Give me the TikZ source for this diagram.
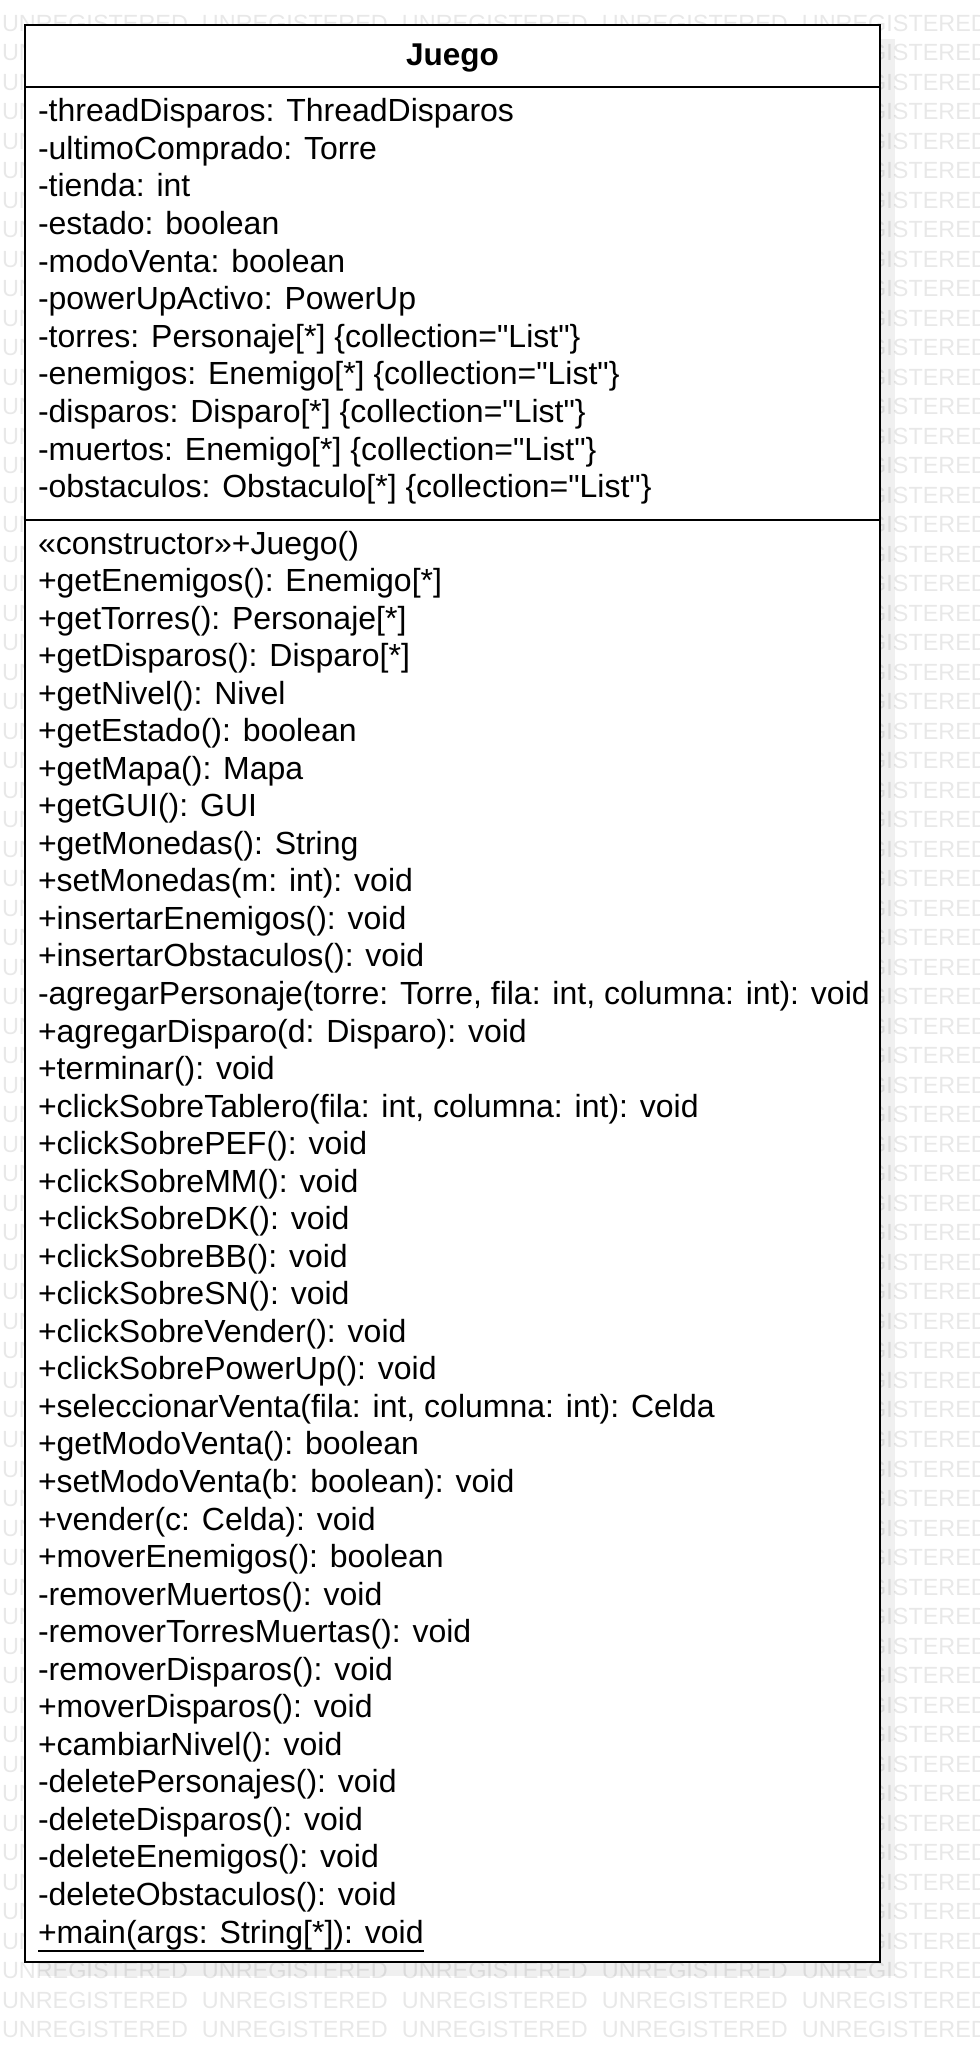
\documentclass[tikz,border=0pt]{standalone}
\usepackage{fontspec}
\setmainfont{Liberation Sans}[Ligatures=TeXOff]
\newcommand{\wmword}{\makebox[200pt][l]{UNREGISTERED}}
\begin{document}
\begin{tikzpicture}[x=1pt,y=-1pt,
  every node/.style={inner sep=0pt, outer sep=0pt},
  wm/.style={anchor=base west, font=\fontsize{23.4}{26}\selectfont, text=black, text opacity=0.09},
  classbox/.style={draw=black, line width=2pt, fill=white, anchor=north west},
  sep/.style={draw=black, line width=2pt},
  txt/.style={anchor=base west, font=\fontsize{32}{37.5}\selectfont, text=black},
  title/.style={anchor=base, font=\fontsize{31.5}{37.5}\selectfont\bfseries, text=black}]
\useasboundingbox (0,0) rectangle (980,2062);
% shadow
\fill[black!6] (39,39) rectangle (895,1976);
% watermark
\begin{scope}
\clip (0,0) rectangle (980,2062);
\foreach \r in {0,...,68}
  \node[wm] (w\r) at (2, {31+29.51*\r}) {\wmword\wmword\wmword\wmword\wmword};
\end{scope}
% class box
\node[classbox, minimum width=855pt, minimum height=1937pt] (juego) at (25,25) {};
\coordinate (s1) at (0,87);
\coordinate (s2) at (0,520);
\draw[sep] (juego.west |- s1) -- (juego.east |- s1);
\draw[sep] (juego.west |- s2) -- (juego.east |- s2);
\node[title] (name) at (452.5,65) {Juego};
\foreach \t [count=\i] in {
  {-threadDisparos: ThreadDisparos},
  {-ultimoComprado: Torre},
  {-tienda: int},
  {-estado: boolean},
  {-modoVenta: boolean},
  {-powerUpActivo: PowerUp},
  {-torres: Personaje[*] \{collection="List"\}},
  {-enemigos: Enemigo[*] \{collection="List"\}},
  {-disparos: Disparo[*] \{collection="List"\}},
  {-muertos: Enemigo[*] \{collection="List"\}},
  {-obstaculos: Obstaculo[*] \{collection="List"\}}}
  \node[txt] (a\i) at (38, {121.7+37.6*(\i-1)}) {\t};
\foreach \t [count=\i] in {
  {«constructor»+Juego()},
  {+getEnemigos(): Enemigo[*]},
  {+getTorres(): Personaje[*]},
  {+getDisparos(): Disparo[*]},
  {+getNivel(): Nivel},
  {+getEstado(): boolean},
  {+getMapa(): Mapa},
  {+getGUI(): GUI},
  {+getMonedas(): String},
  {+setMonedas(m: int): void},
  {+insertarEnemigos(): void},
  {+insertarObstaculos(): void},
  {-agregarPersonaje(torre: Torre, fila: int, columna: int): void},
  {+agregarDisparo(d: Disparo): void},
  {+terminar(): void},
  {+clickSobreTablero(fila: int, columna: int): void},
  {+clickSobrePEF(): void},
  {+clickSobreMM(): void},
  {+clickSobreDK(): void},
  {+clickSobreBB(): void},
  {+clickSobreSN(): void},
  {+clickSobreVender(): void},
  {+clickSobrePowerUp(): void},
  {+seleccionarVenta(fila: int, columna: int): Celda},
  {+getModoVenta(): boolean},
  {+setModoVenta(b: boolean): void},
  {+vender(c: Celda): void},
  {+moverEnemigos(): boolean},
  {-removerMuertos(): void},
  {-removerTorresMuertas(): void},
  {-removerDisparos(): void},
  {+moverDisparos(): void},
  {+cambiarNivel(): void},
  {-deletePersonajes(): void},
  {-deleteDisparos(): void},
  {-deleteEnemigos(): void},
  {-deleteObstaculos(): void},
  {+main(args: String[*]): void}}
  \node[txt] (m\i) at (38, {554+37.54*(\i-1)}) {\t};
\draw[line width=2.5pt] ([yshift=-8pt]m38.base west) -- ([yshift=-8pt]m38.base east);
\end{tikzpicture}
\end{document}
